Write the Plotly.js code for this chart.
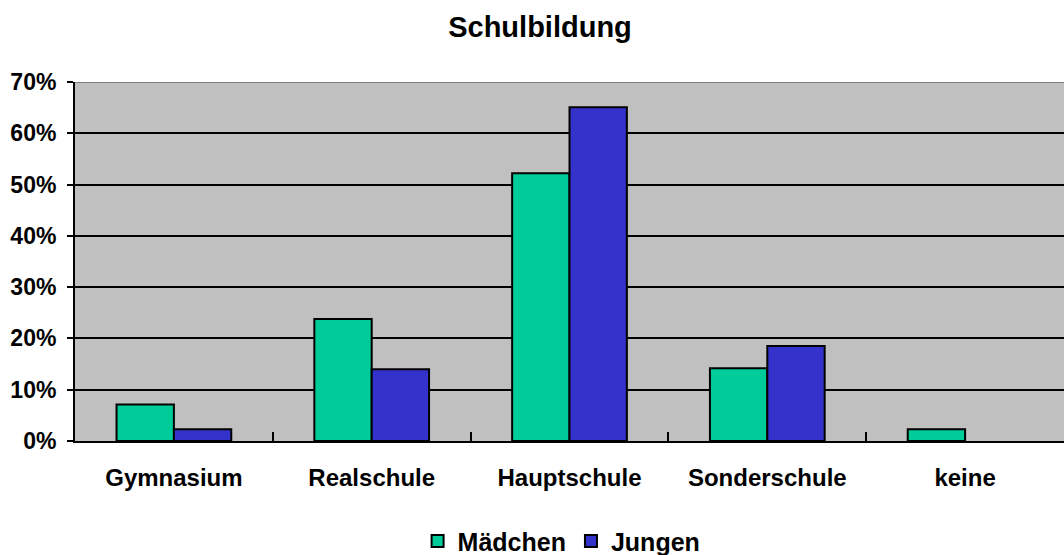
<!DOCTYPE html>
<html>
<head>
<meta charset="utf-8">
<script src="https://cdn.plot.ly/plotly-3.0.1.min.js"></script>
<style>html,body{margin:0;padding:0;background:#fff}#chart{width:1064px;height:555px}</style>
</head>
<body>
<div id="chart"></div>
<script>
const categories = ["Gymnasium", "Realschule", "Hauptschule", "Sonderschule", "keine"];
const maedchen = [7.1, 23.8, 52.2, 14.2, 2.3];
const jungen = [2.3, 14.0, 65.1, 18.5, null];
const yTicks = [0, 10, 20, 30, 40, 50, 60, 70];

const font = "Liberation Sans, Arial, sans-serif";
const traces = [
  {type: "bar", name: "Mädchen", x: categories, y: maedchen,
   marker: {color: "#00CC99", line: {color: "#000", width: 2}}},
  {type: "bar", name: "Jungen", x: categories, y: jungen,
   marker: {color: "#3333CC", line: {color: "#000", width: 2}}}
];
const layout = {
  width: 1064, height: 555,
  margin: {l: 75, r: 0, t: 82, b: 114, autoexpand: false},
  paper_bgcolor: "#fff", plot_bgcolor: "#C0C0C0",
  title: {text: "<b>Schulbildung</b>", font: {family: font, size: 29, color: "#000"},
    x: 540 / 1064, xref: "container", xanchor: "center", y: 1 - 27 / 555, yref: "container", yanchor: "middle"},
  barmode: "group", bargap: 0.42, bargroupgap: 0,
  showlegend: true,
  legend: {orientation: "h", x: 0.492, xanchor: "center", y: -0.279, yanchor: "middle",
    font: {family: font, size: 25, color: "#000", weight: "bold"}, itemwidth: 30, tracegroupgap: 0},
  xaxis: {type: "category", showline: true, linecolor: "#000", linewidth: 2,
    ticks: "inside", tickson: "boundaries", ticklen: 9, tickwidth: 2, tickcolor: "#000",
    ticklabelstandoff: 14,
    tickfont: {family: font, size: 24, color: "#000", weight: "bold"}, showgrid: false, zeroline: false},
  yaxis: {range: [0, 70], tickvals: yTicks, ticktext: yTicks.map(v => v + "%"),
    showline: true, linecolor: "#000", linewidth: 2,
    ticks: "outside", ticklen: 6, tickwidth: 2, tickcolor: "#000", ticklabelstandoff: 6,
    showgrid: true, gridcolor: "#000", gridwidth: 2, zeroline: false,
    tickfont: {family: font, size: 23, color: "#000", weight: "bold"}},
  shapes: [{type: "line", xref: "paper", yref: "y", x0: 0, x1: 1, y0: 70, y1: 70,
    line: {color: "#808080", width: 2}}]
};
Plotly.newPlot("chart", traces, layout, {displayModeBar: false});
</script>
</body>
</html>
